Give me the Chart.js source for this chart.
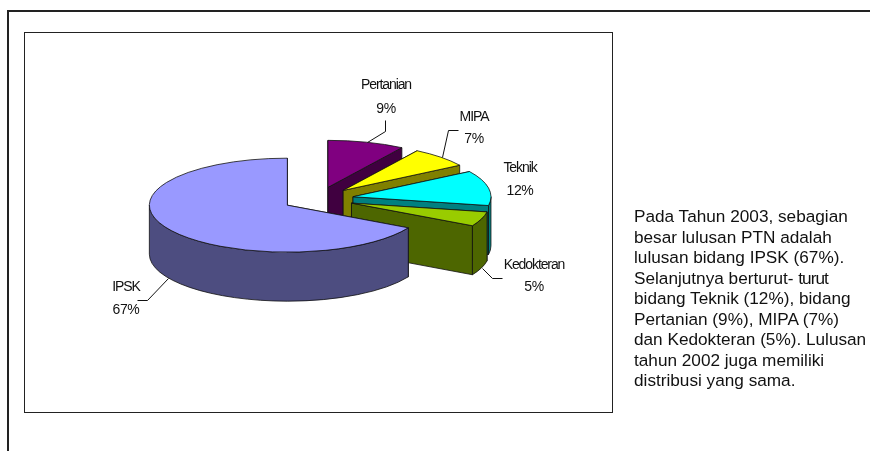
<!DOCTYPE html>
<html>
<head>
<meta charset="utf-8">
<script src="https://cdn.jsdelivr.net/npm/chart.js@4/dist/chart.umd.min.js"></script>
<style>
  html, body { margin:0; padding:0; background:#fff; width:870px; height:451px; overflow:hidden; }
  #wrap { position:relative; width:870px; height:451px; overflow:hidden; }
  #bingkai { position:absolute; left:7px; top:10px; width:870px; height:450px; border-left:2px solid #222; border-top:2px solid #222; }
  #kotak { position:absolute; left:24px; top:32px; width:587px; height:379px; border:1px solid #222; }
  #grafik { position:absolute; left:0; top:0; }
  #teks { position:absolute; left:634px; top:206px; font:17.2px/20.5px "Liberation Sans", Arial, sans-serif; color:#111; white-space:pre; }
</style>
</head>
<body>
<div id="wrap">
  <div id="bingkai"></div>
  <div id="kotak"></div>
  <canvas id="grafik" width="870" height="451"></canvas>
  <div id="teks"></div>
</div>
<script>
const kategori = ['Pertanian', 'MIPA', 'Teknik', 'Kedokteran', 'IPSK'];
const nilai = [9, 7, 12, 5, 67];
const warnaAtas = ['#800080', '#FFFF00', '#00FFFF', '#99CC00', '#9999FF'];
const warnaSisi = ['#400040', '#808000', '#008080', '#4D6600', '#4D4D80'];
const barisTeks = [
  'Pada Tahun 2003, sebagian',
  'besar lulusan PTN adalah',
  'lulusan bidang IPSK (67%).',
  'Selanjutnya berturut- turut',
  'bidang Teknik (12%), bidang',
  'Pertanian (9%), MIPA (7%)',
  'dan Kedokteran (5%). Lulusan',
  'tahun 2002 juga memiliki',
  'distribusi yang sama.'
];

document.getElementById('teks').innerHTML = barisTeks.join('\n')
  .replace('- turut', '- <span style="letter-spacing:-1px">turut</span>');

// tampilan 3D
const PIPIH = 47 / 138;
const TEBAL = 49;
const LEDAK = 0.258;

// posisi label [x, y nama, y persen] dan garis penunjuk
const posLabel = [
  [386, 85, 109],
  [474, 117, 139],
  [520, 168, 191],
  [534, 265, 287],
  [126, 287, 310]
];
const garis = [
  [[385, 120], [385, 131], [367, 142]],
  [[458, 130], [448, 130], [442, 157]],
  null,
  [[502, 278], [492, 278], [482, 268]],
  [[137, 300], [147, 300], [168, 278]]
];

const pie3d = {
  id: 'pie3d',
  beforeDatasetDraw(chart, args) {
    const ctx = chart.ctx;
    const arcs = args.meta.data;

    arcs.forEach((arc, i) => {
      const a0 = arc.startAngle, a1 = arc.endAngle;
      const r = arc.outerRadius, ry = r * PIPIH;
      const tengah = (a0 + a1) / 2;
      const dx = Math.cos(tengah) * r * LEDAK;
      const dy = Math.sin(tengah) * ry * LEDAK;
      const x = arc.x + dx, y = arc.y + dy;
      const titik = a => [x + Math.cos(a) * r, y + Math.sin(a) * ry];

      ctx.save();
      ctx.lineWidth = 0.8;
      ctx.strokeStyle = '#111';
      ctx.lineJoin = 'round';
      ctx.fillStyle = warnaSisi[i];

      // sisi potongan
      [a0, a1].forEach(a => {
        const p = titik(a);
        ctx.beginPath();
        ctx.moveTo(x, y);
        ctx.lineTo(p[0], p[1]);
        ctx.lineTo(p[0], p[1] + TEBAL);
        ctx.lineTo(x, y + TEBAL);
        ctx.closePath();
        ctx.fill();
        ctx.stroke();
      });

      // dinding luar, hanya bagian depan
      const s = Math.max(a0, 0), e = Math.min(a1, Math.PI);
      if (e > s) {
        ctx.beginPath();
        ctx.ellipse(x, y, r, ry, 0, s, e);
        ctx.ellipse(x, y + TEBAL, r, ry, 0, e, s, true);
        ctx.closePath();
        ctx.fill();
        ctx.stroke();
      }

      // permukaan atas digambar oleh arc bawaan Chart.js
      ctx.save();
      ctx.translate(dx, arc.y + dy);
      ctx.scale(1, PIPIH);
      ctx.translate(0, -arc.y);
      arc.draw(ctx);
      ctx.restore();

      ctx.beginPath();
      ctx.moveTo(x, y);
      ctx.ellipse(x, y, r, ry, 0, a0, a1);
      ctx.closePath();
      ctx.stroke();
      ctx.restore();
    });
    return false;
  },
  afterDatasetsDraw(chart) {
    const ctx = chart.ctx;
    ctx.save();
    ctx.strokeStyle = '#111';
    ctx.lineWidth = 1;
    garis.forEach(g => {
      if (!g) return;
      ctx.beginPath();
      g.forEach((p, j) => j ? ctx.lineTo(p[0] + 0.5, p[1] + 0.5) : ctx.moveTo(p[0] + 0.5, p[1] + 0.5));
      ctx.stroke();
    });
    ctx.fillStyle = '#111';
    ctx.font = '14px "Liberation Sans", Arial, sans-serif';
    ctx.textAlign = 'center';
    ctx.textBaseline = 'middle';
    kategori.forEach((k, i) => {
      ctx.letterSpacing = '-1.1px';
      ctx.fillText(k, posLabel[i][0], posLabel[i][1]);
      ctx.letterSpacing = '-0.4px';
      ctx.fillText(nilai[i] + '%', posLabel[i][0], posLabel[i][2]);
    });
    ctx.restore();
  }
};

new Chart(document.getElementById('grafik'), {
  type: 'pie',
  data: {
    labels: kategori,
    datasets: [{
      data: nilai,
      backgroundColor: warnaAtas,
      borderWidth: 0
    }]
  },
  options: {
    responsive: false,
    animation: false,
    radius: 138,
    layout: { padding: { left: 0, right: 234, top: 0, bottom: 53 } },
    plugins: { legend: { display: false }, tooltip: { enabled: false } }
  },
  plugins: [pie3d]
});
</script>
</body>
</html>
